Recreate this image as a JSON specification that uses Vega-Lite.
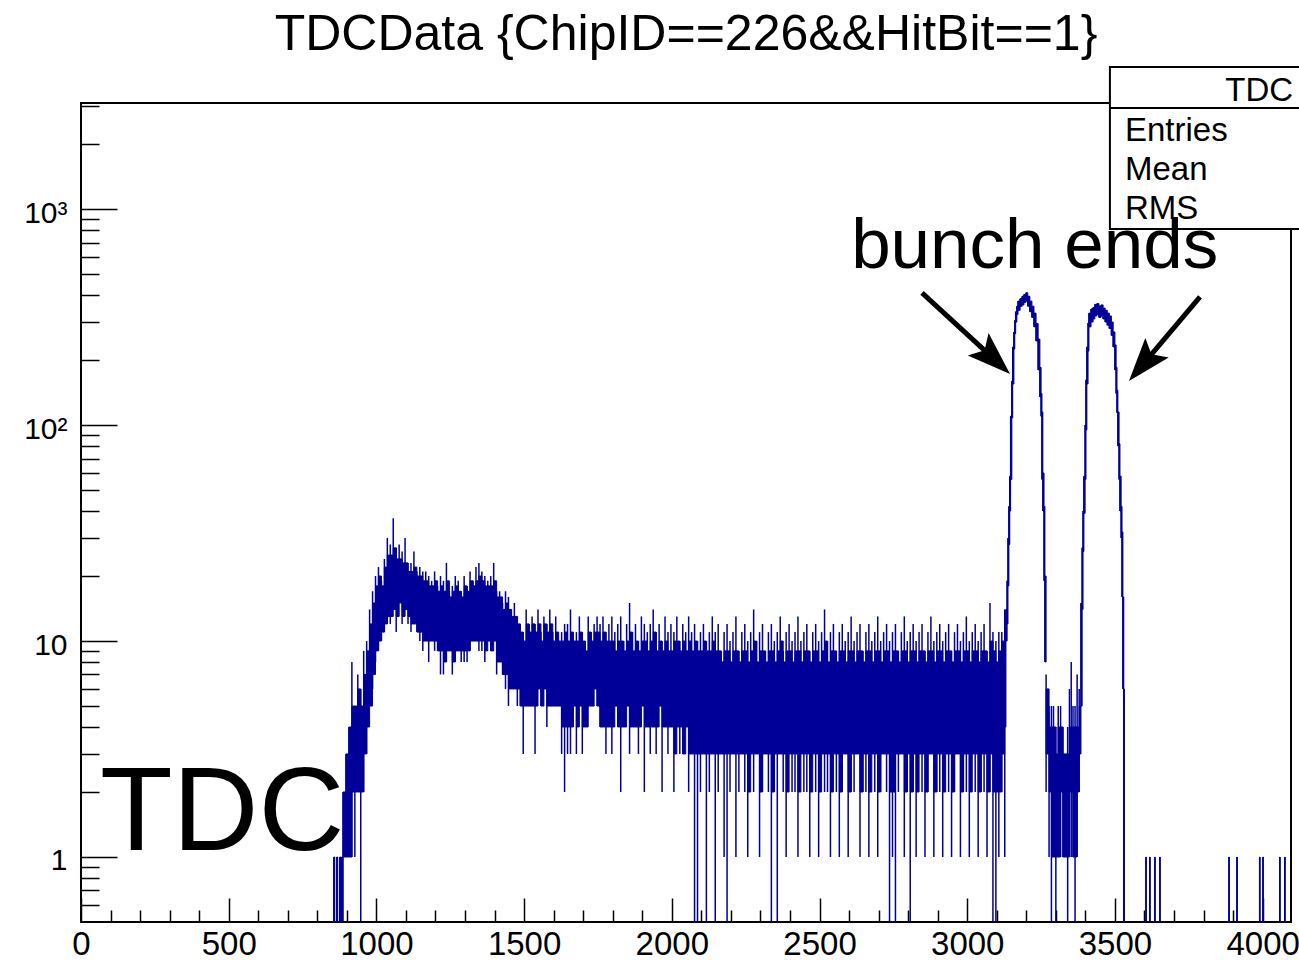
{
"$schema": "https://vega.github.io/schema/vega-lite/v6.json",
"width": 1210, "height": 819,
"autosize": {"type": "none"},
"padding": {"left": 81, "top": 103, "right": 8, "bottom": 38},
"background": "white",
"config": {"font": "Liberation Sans", "view": {"stroke": "black", "strokeWidth": 2}},
"title": {"text": "TDCData {ChipID==226&&HitBit==1}", "fontSize": 50, "fontWeight": "normal", "font": "Liberation Sans", "color": "black", "anchor": "middle", "offset": 6},
"resolve": {"axis": {"x": "independent", "y": "independent"}},
"datasets": {
"hist": [
{"x0":856,"x1":859,"lo":0.5,"clo":0.5,"chi":1,"hi":1},
{"x0":866,"x1":869,"lo":0.5,"clo":0.5,"chi":1,"hi":1},
{"x0":876,"x1":879,"lo":0.5,"clo":0.5,"chi":1,"hi":1},
{"x0":882,"x1":885,"lo":0.5,"clo":0.5,"chi":1,"hi":1},
{"x0":887,"x1":897,"lo":0.5,"clo":1,"chi":2,"hi":2},
{"x0":897,"x1":907,"lo":1,"clo":1,"chi":3,"hi":3},
{"x0":907,"x1":917,"lo":1,"clo":1,"chi":4,"hi":4},
{"x0":917,"x1":927,"lo":1,"clo":2,"chi":5,"hi":8},
{"x0":927,"x1":937,"lo":1,"clo":2,"chi":5,"hi":5},
{"x0":937,"x1":947,"lo":2,"clo":2,"chi":6,"hi":7},
{"x0":947,"x1":957,"lo":0.5,"clo":2,"chi":5,"hi":6},
{"x0":957,"x1":967,"lo":2,"clo":3,"chi":7,"hi":9},
{"x0":967,"x1":977,"lo":3,"clo":4,"chi":9,"hi":10},
{"x0":977,"x1":987,"lo":5,"clo":5,"chi":12,"hi":14},
{"x0":987,"x1":997,"lo":6,"clo":7,"chi":15,"hi":17},
{"x0":997,"x1":1007,"lo":8,"clo":9,"chi":18,"hi":20},
{"x0":1007,"x1":1017,"lo":9,"clo":10,"chi":20,"hi":22},
{"x0":1017,"x1":1027,"lo":10,"clo":11,"chi":18,"hi":19},
{"x0":1027,"x1":1037,"lo":11,"clo":12,"chi":22,"hi":24},
{"x0":1037,"x1":1047,"lo":12,"clo":13,"chi":25,"hi":30},
{"x0":1047,"x1":1057,"lo":12,"clo":13,"chi":25,"hi":28},
{"x0":1057,"x1":1067,"lo":14,"clo":14,"chi":27,"hi":37},
{"x0":1067,"x1":1077,"lo":11,"clo":13,"chi":24,"hi":27},
{"x0":1077,"x1":1087,"lo":15,"clo":15,"chi":24,"hi":28},
{"x0":1087,"x1":1097,"lo":12,"clo":13,"chi":23,"hi":26},
{"x0":1097,"x1":1107,"lo":14,"clo":14,"chi":23,"hi":30},
{"x0":1107,"x1":1117,"lo":12,"clo":13,"chi":21,"hi":23},
{"x0":1117,"x1":1127,"lo":11,"clo":12,"chi":21,"hi":23},
{"x0":1127,"x1":1137,"lo":12,"clo":12,"chi":22,"hi":26},
{"x0":1137,"x1":1147,"lo":11,"clo":11,"chi":20,"hi":21},
{"x0":1147,"x1":1157,"lo":10,"clo":11,"chi":20,"hi":22},
{"x0":1157,"x1":1167,"lo":9,"clo":10,"chi":19,"hi":21},
{"x0":1167,"x1":1177,"lo":10,"clo":10,"chi":19,"hi":21},
{"x0":1177,"x1":1187,"lo":8,"clo":10,"chi":18,"hi":20},
{"x0":1187,"x1":1197,"lo":10,"clo":10,"chi":18,"hi":19},
{"x0":1197,"x1":1207,"lo":9,"clo":10,"chi":19,"hi":21},
{"x0":1207,"x1":1217,"lo":9,"clo":9,"chi":17,"hi":18},
{"x0":1217,"x1":1227,"lo":7,"clo":9,"chi":18,"hi":20},
{"x0":1227,"x1":1237,"lo":7,"clo":8,"chi":17,"hi":19},
{"x0":1237,"x1":1247,"lo":8,"clo":9,"chi":19,"hi":23},
{"x0":1247,"x1":1257,"lo":9,"clo":9,"chi":16,"hi":17},
{"x0":1257,"x1":1267,"lo":7,"clo":8,"chi":17,"hi":18},
{"x0":1267,"x1":1277,"lo":8,"clo":9,"chi":18,"hi":20},
{"x0":1277,"x1":1287,"lo":9,"clo":9,"chi":17,"hi":19},
{"x0":1287,"x1":1297,"lo":8,"clo":9,"chi":16,"hi":17},
{"x0":1297,"x1":1307,"lo":8,"clo":9,"chi":18,"hi":20},
{"x0":1307,"x1":1317,"lo":8,"clo":9,"chi":17,"hi":18},
{"x0":1317,"x1":1327,"lo":9,"clo":10,"chi":19,"hi":21},
{"x0":1327,"x1":1337,"lo":10,"clo":10,"chi":18,"hi":19},
{"x0":1337,"x1":1347,"lo":10,"clo":10,"chi":19,"hi":22},
{"x0":1347,"x1":1357,"lo":9,"clo":10,"chi":20,"hi":23},
{"x0":1357,"x1":1367,"lo":9,"clo":10,"chi":19,"hi":21},
{"x0":1367,"x1":1377,"lo":8,"clo":9,"chi":18,"hi":20},
{"x0":1377,"x1":1387,"lo":10,"clo":10,"chi":18,"hi":19},
{"x0":1387,"x1":1397,"lo":9,"clo":9,"chi":18,"hi":20},
{"x0":1397,"x1":1407,"lo":10,"clo":10,"chi":19,"hi":23},
{"x0":1407,"x1":1417,"lo":7,"clo":8,"chi":16,"hi":17},
{"x0":1417,"x1":1427,"lo":8,"clo":8,"chi":16,"hi":17},
{"x0":1427,"x1":1437,"lo":7,"clo":7,"chi":14,"hi":15},
{"x0":1437,"x1":1447,"lo":6,"clo":7,"chi":15,"hi":17},
{"x0":1447,"x1":1457,"lo":5,"clo":6,"chi":14,"hi":16},
{"x0":1457,"x1":1467,"lo":6,"clo":6,"chi":13,"hi":14},
{"x0":1467,"x1":1477,"lo":6,"clo":6,"chi":13,"hi":15},
{"x0":1477,"x1":1487,"lo":5,"clo":6,"chi":12,"hi":13},
{"x0":1487,"x1":1497,"lo":5,"clo":5,"chi":11,"hi":12},
{"x0":1497,"x1":1507,"lo":3,"clo":5,"chi":10,"hi":11},
{"x0":1507,"x1":1517,"lo":5,"clo":5,"chi":12,"hi":14},
{"x0":1517,"x1":1527,"lo":5,"clo":5,"chi":11,"hi":12},
{"x0":1527,"x1":1537,"lo":5,"clo":5,"chi":12,"hi":13},
{"x0":1537,"x1":1547,"lo":3,"clo":5,"chi":11,"hi":12},
{"x0":1547,"x1":1557,"lo":6,"clo":6,"chi":12,"hi":14},
{"x0":1557,"x1":1567,"lo":5,"clo":5,"chi":10,"hi":11},
{"x0":1567,"x1":1577,"lo":6,"clo":6,"chi":12,"hi":13},
{"x0":1577,"x1":1587,"lo":4,"clo":5,"chi":11,"hi":12},
{"x0":1587,"x1":1597,"lo":5,"clo":5,"chi":12,"hi":14},
{"x0":1597,"x1":1607,"lo":5,"clo":5,"chi":10,"hi":11},
{"x0":1607,"x1":1617,"lo":5,"clo":5,"chi":11,"hi":13},
{"x0":1617,"x1":1627,"lo":5,"clo":5,"chi":10,"hi":10},
{"x0":1627,"x1":1637,"lo":3,"clo":4,"chi":10,"hi":11},
{"x0":1637,"x1":1647,"lo":2,"clo":4,"chi":11,"hi":12},
{"x0":1647,"x1":1657,"lo":3,"clo":4,"chi":10,"hi":12},
{"x0":1657,"x1":1667,"lo":3,"clo":4,"chi":11,"hi":14},
{"x0":1667,"x1":1677,"lo":5,"clo":5,"chi":10,"hi":10},
{"x0":1677,"x1":1687,"lo":3,"clo":4,"chi":10,"hi":11},
{"x0":1687,"x1":1697,"lo":5,"clo":5,"chi":11,"hi":13},
{"x0":1697,"x1":1707,"lo":3,"clo":4,"chi":10,"hi":11},
{"x0":1707,"x1":1717,"lo":4,"clo":4,"chi":9,"hi":10},
{"x0":1717,"x1":1727,"lo":5,"clo":5,"chi":11,"hi":13},
{"x0":1727,"x1":1737,"lo":5,"clo":5,"chi":10,"hi":11},
{"x0":1737,"x1":1747,"lo":6,"clo":6,"chi":11,"hi":12},
{"x0":1747,"x1":1757,"lo":5,"clo":5,"chi":11,"hi":13},
{"x0":1757,"x1":1767,"lo":4,"clo":4,"chi":10,"hi":12},
{"x0":1767,"x1":1777,"lo":4,"clo":4,"chi":11,"hi":13},
{"x0":1777,"x1":1787,"lo":3,"clo":4,"chi":10,"hi":11},
{"x0":1787,"x1":1797,"lo":4,"clo":4,"chi":10,"hi":12},
{"x0":1797,"x1":1807,"lo":3,"clo":4,"chi":10,"hi":13},
{"x0":1807,"x1":1817,"lo":5,"clo":5,"chi":9,"hi":11},
{"x0":1817,"x1":1827,"lo":4,"clo":4,"chi":10,"hi":12},
{"x0":1827,"x1":1837,"lo":2,"clo":4,"chi":10,"hi":13},
{"x0":1837,"x1":1847,"lo":4,"clo":4,"chi":9,"hi":10},
{"x0":1847,"x1":1857,"lo":5,"clo":5,"chi":10,"hi":12},
{"x0":1857,"x1":1867,"lo":3,"clo":4,"chi":11,"hi":15},
{"x0":1867,"x1":1877,"lo":4,"clo":4,"chi":9,"hi":11},
{"x0":1877,"x1":1887,"lo":4,"clo":4,"chi":10,"hi":12},
{"x0":1887,"x1":1897,"lo":3,"clo":4,"chi":9,"hi":10},
{"x0":1897,"x1":1907,"lo":5,"clo":5,"chi":10,"hi":13},
{"x0":1907,"x1":1917,"lo":2,"clo":4,"chi":10,"hi":12},
{"x0":1917,"x1":1927,"lo":4,"clo":4,"chi":9,"hi":11},
{"x0":1927,"x1":1937,"lo":3,"clo":4,"chi":10,"hi":12},
{"x0":1937,"x1":1947,"lo":4,"clo":4,"chi":11,"hi":14},
{"x0":1947,"x1":1957,"lo":3,"clo":4,"chi":9,"hi":11},
{"x0":1957,"x1":1967,"lo":5,"clo":5,"chi":10,"hi":12},
{"x0":1967,"x1":1977,"lo":2,"clo":4,"chi":9,"hi":10},
{"x0":1977,"x1":1987,"lo":4,"clo":4,"chi":10,"hi":13},
{"x0":1987,"x1":1997,"lo":3,"clo":4,"chi":9,"hi":11},
{"x0":1997,"x1":2007,"lo":4,"clo":4,"chi":9,"hi":12},
{"x0":2007,"x1":2017,"lo":2,"clo":3,"chi":10,"hi":11},
{"x0":2017,"x1":2027,"lo":4,"clo":4,"chi":10,"hi":13},
{"x0":2027,"x1":2037,"lo":3,"clo":4,"chi":9,"hi":10},
{"x0":2037,"x1":2047,"lo":3,"clo":3,"chi":10,"hi":12},
{"x0":2047,"x1":2057,"lo":4,"clo":4,"chi":9,"hi":11},
{"x0":2057,"x1":2067,"lo":2,"clo":3,"chi":10,"hi":13},
{"x0":2067,"x1":2077,"lo":3,"clo":3,"chi":9,"hi":11},
{"x0":2077,"x1":2087,"lo":0.5,"clo":3,"chi":10,"hi":12},
{"x0":2087,"x1":2097,"lo":0.5,"clo":3,"chi":9,"hi":10},
{"x0":2097,"x1":2107,"lo":2,"clo":3,"chi":9,"hi":11},
{"x0":2107,"x1":2117,"lo":3,"clo":3,"chi":10,"hi":12},
{"x0":2117,"x1":2127,"lo":0.5,"clo":3,"chi":9,"hi":10},
{"x0":2127,"x1":2137,"lo":2,"clo":3,"chi":9,"hi":11},
{"x0":2137,"x1":2147,"lo":3,"clo":3,"chi":10,"hi":13},
{"x0":2147,"x1":2157,"lo":0.5,"clo":3,"chi":9,"hi":11},
{"x0":2157,"x1":2167,"lo":2,"clo":3,"chi":9,"hi":12},
{"x0":2167,"x1":2177,"lo":3,"clo":3,"chi":8,"hi":9},
{"x0":2177,"x1":2187,"lo":1,"clo":3,"chi":9,"hi":11},
{"x0":2187,"x1":2197,"lo":0.5,"clo":3,"chi":9,"hi":12},
{"x0":2197,"x1":2207,"lo":2,"clo":3,"chi":8,"hi":10},
{"x0":2207,"x1":2217,"lo":3,"clo":3,"chi":9,"hi":11},
{"x0":2217,"x1":2227,"lo":1,"clo":3,"chi":9,"hi":13},
{"x0":2227,"x1":2237,"lo":2,"clo":3,"chi":8,"hi":9},
{"x0":2237,"x1":2247,"lo":3,"clo":3,"chi":9,"hi":11},
{"x0":2247,"x1":2257,"lo":2,"clo":3,"chi":9,"hi":12},
{"x0":2257,"x1":2267,"lo":1,"clo":2,"chi":8,"hi":10},
{"x0":2267,"x1":2277,"lo":3,"clo":3,"chi":9,"hi":11},
{"x0":2277,"x1":2287,"lo":2,"clo":3,"chi":10,"hi":14},
{"x0":2287,"x1":2297,"lo":3,"clo":3,"chi":8,"hi":10},
{"x0":2297,"x1":2307,"lo":1,"clo":2,"chi":9,"hi":11},
{"x0":2307,"x1":2317,"lo":2,"clo":3,"chi":9,"hi":12},
{"x0":2317,"x1":2327,"lo":3,"clo":3,"chi":8,"hi":9},
{"x0":2327,"x1":2337,"lo":2,"clo":3,"chi":9,"hi":11},
{"x0":2337,"x1":2347,"lo":0.5,"clo":2,"chi":9,"hi":12},
{"x0":2347,"x1":2357,"lo":2,"clo":3,"chi":8,"hi":10},
{"x0":2357,"x1":2367,"lo":0.5,"clo":3,"chi":9,"hi":11},
{"x0":2367,"x1":2377,"lo":3,"clo":3,"chi":10,"hi":13},
{"x0":2377,"x1":2387,"lo":2,"clo":3,"chi":8,"hi":9},
{"x0":2387,"x1":2397,"lo":1,"clo":2,"chi":9,"hi":11},
{"x0":2397,"x1":2407,"lo":3,"clo":3,"chi":9,"hi":12},
{"x0":2407,"x1":2417,"lo":2,"clo":3,"chi":8,"hi":10},
{"x0":2417,"x1":2427,"lo":2,"clo":3,"chi":9,"hi":11},
{"x0":2427,"x1":2437,"lo":1,"clo":2,"chi":9,"hi":13},
{"x0":2437,"x1":2447,"lo":3,"clo":3,"chi":8,"hi":10},
{"x0":2447,"x1":2457,"lo":2,"clo":3,"chi":9,"hi":11},
{"x0":2457,"x1":2467,"lo":2,"clo":3,"chi":9,"hi":12},
{"x0":2467,"x1":2477,"lo":1,"clo":2,"chi":8,"hi":9},
{"x0":2477,"x1":2487,"lo":3,"clo":3,"chi":9,"hi":11},
{"x0":2487,"x1":2497,"lo":2,"clo":3,"chi":9,"hi":12},
{"x0":2497,"x1":2507,"lo":1,"clo":2,"chi":8,"hi":10},
{"x0":2507,"x1":2517,"lo":3,"clo":3,"chi":9,"hi":11},
{"x0":2517,"x1":2527,"lo":2,"clo":3,"chi":10,"hi":14},
{"x0":2527,"x1":2537,"lo":2,"clo":3,"chi":8,"hi":10},
{"x0":2537,"x1":2547,"lo":1,"clo":2,"chi":9,"hi":11},
{"x0":2547,"x1":2557,"lo":3,"clo":3,"chi":9,"hi":12},
{"x0":2557,"x1":2567,"lo":2,"clo":3,"chi":8,"hi":9},
{"x0":2567,"x1":2577,"lo":1,"clo":2,"chi":9,"hi":11},
{"x0":2577,"x1":2587,"lo":2,"clo":3,"chi":9,"hi":12},
{"x0":2587,"x1":2597,"lo":3,"clo":3,"chi":8,"hi":10},
{"x0":2597,"x1":2607,"lo":1,"clo":2,"chi":9,"hi":11},
{"x0":2607,"x1":2617,"lo":2,"clo":3,"chi":9,"hi":13},
{"x0":2617,"x1":2627,"lo":2,"clo":3,"chi":8,"hi":10},
{"x0":2627,"x1":2637,"lo":3,"clo":3,"chi":9,"hi":11},
{"x0":2637,"x1":2647,"lo":1,"clo":2,"chi":9,"hi":12},
{"x0":2647,"x1":2657,"lo":2,"clo":3,"chi":8,"hi":9},
{"x0":2657,"x1":2667,"lo":2,"clo":3,"chi":9,"hi":11},
{"x0":2667,"x1":2677,"lo":1,"clo":2,"chi":9,"hi":12},
{"x0":2677,"x1":2687,"lo":3,"clo":3,"chi":8,"hi":10},
{"x0":2687,"x1":2697,"lo":2,"clo":3,"chi":9,"hi":11},
{"x0":2697,"x1":2707,"lo":1,"clo":2,"chi":9,"hi":13},
{"x0":2707,"x1":2717,"lo":2,"clo":3,"chi":8,"hi":10},
{"x0":2717,"x1":2727,"lo":3,"clo":3,"chi":9,"hi":11},
{"x0":2727,"x1":2737,"lo":2,"clo":3,"chi":9,"hi":12},
{"x0":2737,"x1":2747,"lo":0.5,"clo":2,"chi":8,"hi":10},
{"x0":2747,"x1":2757,"lo":1,"clo":2,"chi":9,"hi":11},
{"x0":2757,"x1":2767,"lo":0.5,"clo":3,"chi":9,"hi":12},
{"x0":2767,"x1":2777,"lo":2,"clo":3,"chi":8,"hi":9},
{"x0":2777,"x1":2787,"lo":3,"clo":3,"chi":9,"hi":11},
{"x0":2787,"x1":2797,"lo":1,"clo":2,"chi":9,"hi":13},
{"x0":2797,"x1":2807,"lo":2,"clo":3,"chi":8,"hi":10},
{"x0":2807,"x1":2817,"lo":0.5,"clo":2,"chi":9,"hi":11},
{"x0":2817,"x1":2827,"lo":2,"clo":3,"chi":9,"hi":12},
{"x0":2827,"x1":2837,"lo":1,"clo":2,"chi":8,"hi":10},
{"x0":2837,"x1":2847,"lo":3,"clo":3,"chi":9,"hi":11},
{"x0":2847,"x1":2857,"lo":2,"clo":3,"chi":9,"hi":12},
{"x0":2857,"x1":2867,"lo":1,"clo":2,"chi":8,"hi":9},
{"x0":2867,"x1":2877,"lo":2,"clo":3,"chi":9,"hi":11},
{"x0":2877,"x1":2887,"lo":3,"clo":3,"chi":9,"hi":13},
{"x0":2887,"x1":2897,"lo":1,"clo":2,"chi":8,"hi":10},
{"x0":2897,"x1":2907,"lo":2,"clo":3,"chi":9,"hi":11},
{"x0":2907,"x1":2917,"lo":2,"clo":3,"chi":9,"hi":12},
{"x0":2917,"x1":2927,"lo":1,"clo":2,"chi":8,"hi":10},
{"x0":2927,"x1":2937,"lo":3,"clo":3,"chi":9,"hi":11},
{"x0":2937,"x1":2947,"lo":2,"clo":3,"chi":9,"hi":12},
{"x0":2947,"x1":2957,"lo":1,"clo":2,"chi":8,"hi":9},
{"x0":2957,"x1":2967,"lo":2,"clo":3,"chi":9,"hi":11},
{"x0":2967,"x1":2977,"lo":3,"clo":3,"chi":9,"hi":12},
{"x0":2977,"x1":2987,"lo":1,"clo":2,"chi":8,"hi":10},
{"x0":2987,"x1":2997,"lo":2,"clo":3,"chi":9,"hi":11},
{"x0":2997,"x1":3007,"lo":2,"clo":3,"chi":9,"hi":13},
{"x0":3007,"x1":3017,"lo":1,"clo":2,"chi":8,"hi":10},
{"x0":3017,"x1":3027,"lo":3,"clo":3,"chi":9,"hi":11},
{"x0":3027,"x1":3037,"lo":2,"clo":3,"chi":9,"hi":12},
{"x0":3037,"x1":3047,"lo":1,"clo":2,"chi":8,"hi":10},
{"x0":3047,"x1":3057,"lo":2,"clo":3,"chi":9,"hi":11},
{"x0":3057,"x1":3067,"lo":2,"clo":3,"chi":9,"hi":12},
{"x0":3067,"x1":3077,"lo":1,"clo":2,"chi":8,"hi":9},
{"x0":3077,"x1":3087,"lo":2,"clo":3,"chi":10,"hi":15},
{"x0":3087,"x1":3097,"lo":0.5,"clo":2,"chi":9,"hi":11},
{"x0":3097,"x1":3107,"lo":0.5,"clo":2,"chi":8,"hi":10},
{"x0":3107,"x1":3117,"lo":1,"clo":2,"chi":9,"hi":11},
{"x0":3117,"x1":3127,"lo":2,"clo":3,"chi":10,"hi":11},
{"x0":3127,"x1":3131,"lo":1,"clo":4,"chi":11,"hi":14},
{"x0":3131,"x1":3135,"lo":10,"clo":10,"chi":14,"hi":14},
{"x0":3135,"x1":3138,"lo":12,"clo":12,"chi":19,"hi":19},
{"x0":3138,"x1":3141,"lo":18,"clo":18,"chi":30,"hi":30},
{"x0":3141,"x1":3144,"lo":28,"clo":28,"chi":42,"hi":42},
{"x0":3144,"x1":3147,"lo":40,"clo":40,"chi":58,"hi":58},
{"x0":3147,"x1":3151,"lo":56,"clo":56,"chi":110,"hi":110},
{"x0":3151,"x1":3154,"lo":108,"clo":108,"chi":160,"hi":160},
{"x0":3154,"x1":3158,"lo":155,"clo":155,"chi":230,"hi":230},
{"x0":3158,"x1":3161,"lo":225,"clo":225,"chi":270,"hi":270},
{"x0":3161,"x1":3164,"lo":265,"clo":265,"chi":305,"hi":305},
{"x0":3164,"x1":3168,"lo":300,"clo":300,"chi":335,"hi":335},
{"x0":3168,"x1":3172,"lo":325,"clo":325,"chi":355,"hi":355},
{"x0":3172,"x1":3179,"lo":340,"clo":340,"chi":375,"hi":375},
{"x0":3179,"x1":3186,"lo":355,"clo":355,"chi":385,"hi":385},
{"x0":3186,"x1":3192,"lo":360,"clo":360,"chi":395,"hi":395},
{"x0":3192,"x1":3199,"lo":370,"clo":370,"chi":402,"hi":402},
{"x0":3199,"x1":3205,"lo":375,"clo":375,"chi":410,"hi":410},
{"x0":3205,"x1":3212,"lo":355,"clo":355,"chi":395,"hi":395},
{"x0":3212,"x1":3219,"lo":335,"clo":335,"chi":375,"hi":375},
{"x0":3219,"x1":3226,"lo":315,"clo":315,"chi":355,"hi":355},
{"x0":3226,"x1":3233,"lo":285,"clo":285,"chi":330,"hi":330},
{"x0":3233,"x1":3240,"lo":245,"clo":245,"chi":295,"hi":295},
{"x0":3240,"x1":3246,"lo":180,"clo":180,"chi":250,"hi":250},
{"x0":3246,"x1":3250,"lo":135,"clo":135,"chi":185,"hi":185},
{"x0":3250,"x1":3253,"lo":110,"clo":110,"chi":140,"hi":140},
{"x0":3253,"x1":3256,"lo":56,"clo":56,"chi":115,"hi":115},
{"x0":3256,"x1":3260,"lo":40,"clo":40,"chi":60,"hi":60},
{"x0":3260,"x1":3263,"lo":19,"clo":19,"chi":42,"hi":42},
{"x0":3263,"x1":3267,"lo":8,"clo":8,"chi":20,"hi":20},
{"x0":3267,"x1":3277,"lo":2,"clo":3,"chi":6,"hi":7},
{"x0":3277,"x1":3285,"lo":1,"clo":2,"chi":4,"hi":5},
{"x0":3285,"x1":3292,"lo":0.5,"clo":1,"chi":4,"hi":5},
{"x0":3292,"x1":3300,"lo":1,"clo":1,"chi":4,"hi":5},
{"x0":3300,"x1":3308,"lo":0.5,"clo":1,"chi":3,"hi":4},
{"x0":3308,"x1":3316,"lo":1,"clo":1,"chi":4,"hi":5},
{"x0":3316,"x1":3324,"lo":1,"clo":2,"chi":4,"hi":5},
{"x0":3324,"x1":3332,"lo":1,"clo":1,"chi":3,"hi":4},
{"x0":3332,"x1":3340,"lo":1,"clo":1,"chi":3,"hi":3},
{"x0":3340,"x1":3346,"lo":0.5,"clo":1,"chi":3,"hi":4},
{"x0":3346,"x1":3352,"lo":1,"clo":2,"chi":4,"hi":6},
{"x0":3352,"x1":3358,"lo":1,"clo":2,"chi":4,"hi":8},
{"x0":3358,"x1":3365,"lo":1,"clo":1,"chi":4,"hi":5},
{"x0":3365,"x1":3372,"lo":0.5,"clo":1,"chi":4,"hi":5},
{"x0":3372,"x1":3379,"lo":1,"clo":2,"chi":4,"hi":7},
{"x0":3379,"x1":3385,"lo":2,"clo":3,"chi":5,"hi":6},
{"x0":3385,"x1":3389,"lo":5,"clo":5,"chi":15,"hi":15},
{"x0":3389,"x1":3392,"lo":14,"clo":14,"chi":27,"hi":27},
{"x0":3392,"x1":3395,"lo":26,"clo":26,"chi":40,"hi":40},
{"x0":3395,"x1":3399,"lo":39,"clo":39,"chi":58,"hi":58},
{"x0":3399,"x1":3402,"lo":56,"clo":56,"chi":100,"hi":100},
{"x0":3402,"x1":3405,"lo":95,"clo":95,"chi":162,"hi":162},
{"x0":3405,"x1":3409,"lo":155,"clo":155,"chi":230,"hi":230},
{"x0":3409,"x1":3412,"lo":220,"clo":220,"chi":297,"hi":297},
{"x0":3412,"x1":3419,"lo":285,"clo":285,"chi":330,"hi":330},
{"x0":3419,"x1":3426,"lo":300,"clo":300,"chi":345,"hi":345},
{"x0":3426,"x1":3432,"lo":310,"clo":310,"chi":350,"hi":350},
{"x0":3432,"x1":3439,"lo":320,"clo":320,"chi":362,"hi":362},
{"x0":3439,"x1":3446,"lo":325,"clo":325,"chi":365,"hi":365},
{"x0":3446,"x1":3453,"lo":315,"clo":315,"chi":355,"hi":355},
{"x0":3453,"x1":3460,"lo":320,"clo":320,"chi":360,"hi":360},
{"x0":3460,"x1":3467,"lo":310,"clo":310,"chi":348,"hi":348},
{"x0":3467,"x1":3474,"lo":300,"clo":300,"chi":340,"hi":340},
{"x0":3474,"x1":3481,"lo":290,"clo":290,"chi":330,"hi":330},
{"x0":3481,"x1":3488,"lo":280,"clo":280,"chi":320,"hi":320},
{"x0":3488,"x1":3494,"lo":260,"clo":260,"chi":300,"hi":300},
{"x0":3494,"x1":3500,"lo":230,"clo":230,"chi":270,"hi":270},
{"x0":3500,"x1":3504,"lo":180,"clo":180,"chi":235,"hi":235},
{"x0":3504,"x1":3507,"lo":140,"clo":140,"chi":185,"hi":185},
{"x0":3507,"x1":3510,"lo":114,"clo":114,"chi":145,"hi":145},
{"x0":3510,"x1":3514,"lo":80,"clo":80,"chi":115,"hi":115},
{"x0":3514,"x1":3517,"lo":56,"clo":56,"chi":82,"hi":82},
{"x0":3517,"x1":3521,"lo":40,"clo":40,"chi":58,"hi":58},
{"x0":3521,"x1":3524,"lo":30,"clo":30,"chi":42,"hi":42},
{"x0":3524,"x1":3527,"lo":16,"clo":16,"chi":32,"hi":32},
{"x0":3527,"x1":3530,"lo":6,"clo":6,"chi":16,"hi":16},
{"x0":3530,"x1":3532,"lo":0.5,"clo":0.5,"chi":6,"hi":6},
{"x0":3605,"x1":3606,"lo":0.5,"clo":0.5,"chi":1,"hi":1},
{"x0":3618,"x1":3619,"lo":0.5,"clo":0.5,"chi":1,"hi":1},
{"x0":3635,"x1":3636,"lo":0.5,"clo":0.5,"chi":1,"hi":1},
{"x0":3652,"x1":3653,"lo":0.5,"clo":0.5,"chi":1,"hi":1},
{"x0":3886,"x1":3887,"lo":0.5,"clo":0.5,"chi":1,"hi":1},
{"x0":3913,"x1":3914,"lo":0.5,"clo":0.5,"chi":1,"hi":1},
{"x0":3990,"x1":3991,"lo":0.5,"clo":0.5,"chi":1,"hi":1},
{"x0":4001,"x1":4002,"lo":0.5,"clo":0.5,"chi":1,"hi":1},
{"x0":4058,"x1":4059,"lo":0.5,"clo":0.5,"chi":1,"hi":1},
{"x0":4075,"x1":4076,"lo":0.5,"clo":0.5,"chi":1,"hi":1}
]
},
"layer": [
{"data": {"name": "hist"},
 "mark": {"type": "rect", "fill": "#000099", "stroke": "#000099", "strokeWidth": 1, "clip": true},
 "encoding": {
  "x": {"field": "x0", "type": "quantitative",
        "scale": {"domain": [0, 4096], "nice": false, "zero": false},
        "axis": {"orient": "bottom", "title": null, "grid": false, "domain": false,
                 "values": [0,500,1000,1500,2000,2500,3000,3500,4000],
                 "format": "d",
                 "tickSize": -24,
                 "tickColor": "black", "tickWidth": 1.5,
                 "labelFontSize": 33, "labelColor": "black", "labelFont": "Liberation Sans",
                 "labelPadding": 30, "labelFlush": false, "labelOverlap": false}},
  "x2": {"field": "x1"},
  "y": {"field": "clo", "type": "quantitative",
        "scale": {"type": "log", "domain": [0.5, 3100], "nice": false},
        "axis": {"orient": "left", "title": null, "grid": false, "domain": false,
                 "values": [1,10,100,1000],
                 "labelExpr": "datum.value == 1 ? '1' : datum.value == 10 ? '10' : datum.value == 100 ? '10²' : '10³'",
                 "tickSize": -36,
                 "tickColor": "black", "tickWidth": 1.5,
                 "labelFontSize": 30, "labelColor": "black", "labelFont": "Liberation Sans",
                 "labelPadding": 50, "labelOffset": 4, "labelOverlap": false}},
  "y2": {"field": "chi"}
 }},
{"data": {"name": "hist"},
 "mark": {"type": "rule", "color": "#000099", "strokeWidth": 1.5, "clip": true},
 "encoding": {
  "x": {"field": "x0", "type": "quantitative",
        "axis": {"orient": "bottom", "title": null, "grid": false, "domain": false, "labels": false,
                 "values": [100,200,300,400,600,700,800,900,1100,1200,1300,1400,1600,1700,1800,1900,2100,2200,2300,2400,2600,2700,2800,2900,3100,3200,3300,3400,3600,3700,3800,3900],
                 "tickSize": -12, "tickColor": "black", "tickWidth": 1.5}},
  "y": {"field": "lo", "type": "quantitative",
        "axis": {"orient": "left", "title": null, "grid": false, "domain": false, "labels": false,
                 "values": [0.6,0.7,0.8,0.9,2,3,4,5,6,7,8,9,20,30,40,50,60,70,80,90,200,300,400,500,600,700,800,900,2000,3000],
                 "tickSize": -18, "tickColor": "black", "tickWidth": 1.5}},
  "y2": {"field": "hi"}
 }},
{"data": {"values": [{"x0": 3483, "x1": 4200, "ylo": 809, "yhi": 4550}]},
 "mark": {"type": "rect", "fill": "white", "stroke": "black", "strokeWidth": 2, "clip": false},
 "encoding": {
  "x": {"field": "x0", "type": "quantitative", "axis": null},
  "x2": {"field": "x1"},
  "y": {"field": "ylo", "type": "quantitative", "axis": null},
  "y2": {"field": "yhi"}
 }},
{"data": {"values": [{"x0": 3483, "x1": 4200, "y": 2939}]},
 "mark": {"type": "rule", "color": "black", "strokeWidth": 2, "clip": false},
 "encoding": {
  "x": {"field": "x0", "type": "quantitative", "axis": null},
  "x2": {"field": "x1"},
  "y": {"field": "y", "type": "quantitative", "axis": null}
 }},
{"data": {"values": [{"x": 4103, "y": 3167, "t": "TDC"}]},
 "mark": {"type": "text", "align": "right", "baseline": "alphabetic", "fontSize": 33, "font": "Liberation Sans", "color": "black", "clip": false},
 "encoding": {
  "x": {"field": "x", "type": "quantitative", "axis": null},
  "y": {"field": "y", "type": "quantitative", "axis": null},
  "text": {"field": "t"}
 }},
{"data": {"values": [{"x": 3534, "y": 2067, "t": "Entries"}, {"x": 3534, "y": 1364, "t": "Mean"}, {"x": 3534, "y": 900, "t": "RMS"}]},
 "mark": {"type": "text", "align": "left", "baseline": "alphabetic", "fontSize": 33, "font": "Liberation Sans", "color": "black", "clip": false},
 "encoding": {
  "x": {"field": "x", "type": "quantitative", "axis": null},
  "y": {"field": "y", "type": "quantitative", "axis": null},
  "text": {"field": "t"}
 }},
{"data": {"values": [{"x": 64, "y": 1.077, "t": "TDC"}]},
 "mark": {"type": "text", "align": "left", "baseline": "alphabetic", "fontSize": 119, "font": "Liberation Sans", "color": "black", "clip": false},
 "encoding": {
  "x": {"field": "x", "type": "quantitative", "axis": null},
  "y": {"field": "y", "type": "quantitative", "axis": null},
  "text": {"field": "t"}
 }},
{"data": {"values": [{"x": 2607, "y": 534, "t": "bunch ends"}]},
 "mark": {"type": "text", "align": "left", "baseline": "alphabetic", "fontSize": 71, "font": "Liberation Sans", "color": "black", "clip": false},
 "encoding": {
  "x": {"field": "x", "type": "quantitative", "axis": null},
  "y": {"field": "y", "type": "quantitative", "axis": null},
  "text": {"field": "t"}
 }},
{"data": {"values": [{"xa": 2847, "ya": 409, "xb": 3091, "yb": 202}, {"xa": 3788, "ya": 392, "xb": 3595, "yb": 191}]},
 "mark": {"type": "rule", "color": "black", "strokeWidth": 5, "clip": false},
 "encoding": {
  "x": {"field": "xa", "type": "quantitative", "axis": null},
  "y": {"field": "ya", "type": "quantitative", "axis": null},
  "x2": {"field": "xb"},
  "y2": {"field": "yb"}
 }},
{"data": {"values": [{"x": 3091, "y": 202}]},
 "mark": {"type": "point", "shape": "M0,-1L-0.7,1L0,0.6L0.7,1Z", "filled": true, "color": "black", "opacity": 1, "size": 1900, "angle": 133, "clip": false},
 "encoding": {
  "x": {"field": "x", "type": "quantitative", "axis": null},
  "y": {"field": "y", "type": "quantitative", "axis": null}
 }},
{"data": {"values": [{"x": 3595, "y": 191}]},
 "mark": {"type": "point", "shape": "M0,-1L-0.7,1L0,0.6L0.7,1Z", "filled": true, "color": "black", "opacity": 1, "size": 1900, "angle": 220, "clip": false},
 "encoding": {
  "x": {"field": "x", "type": "quantitative", "axis": null},
  "y": {"field": "y", "type": "quantitative", "axis": null}
 }}
]
}
